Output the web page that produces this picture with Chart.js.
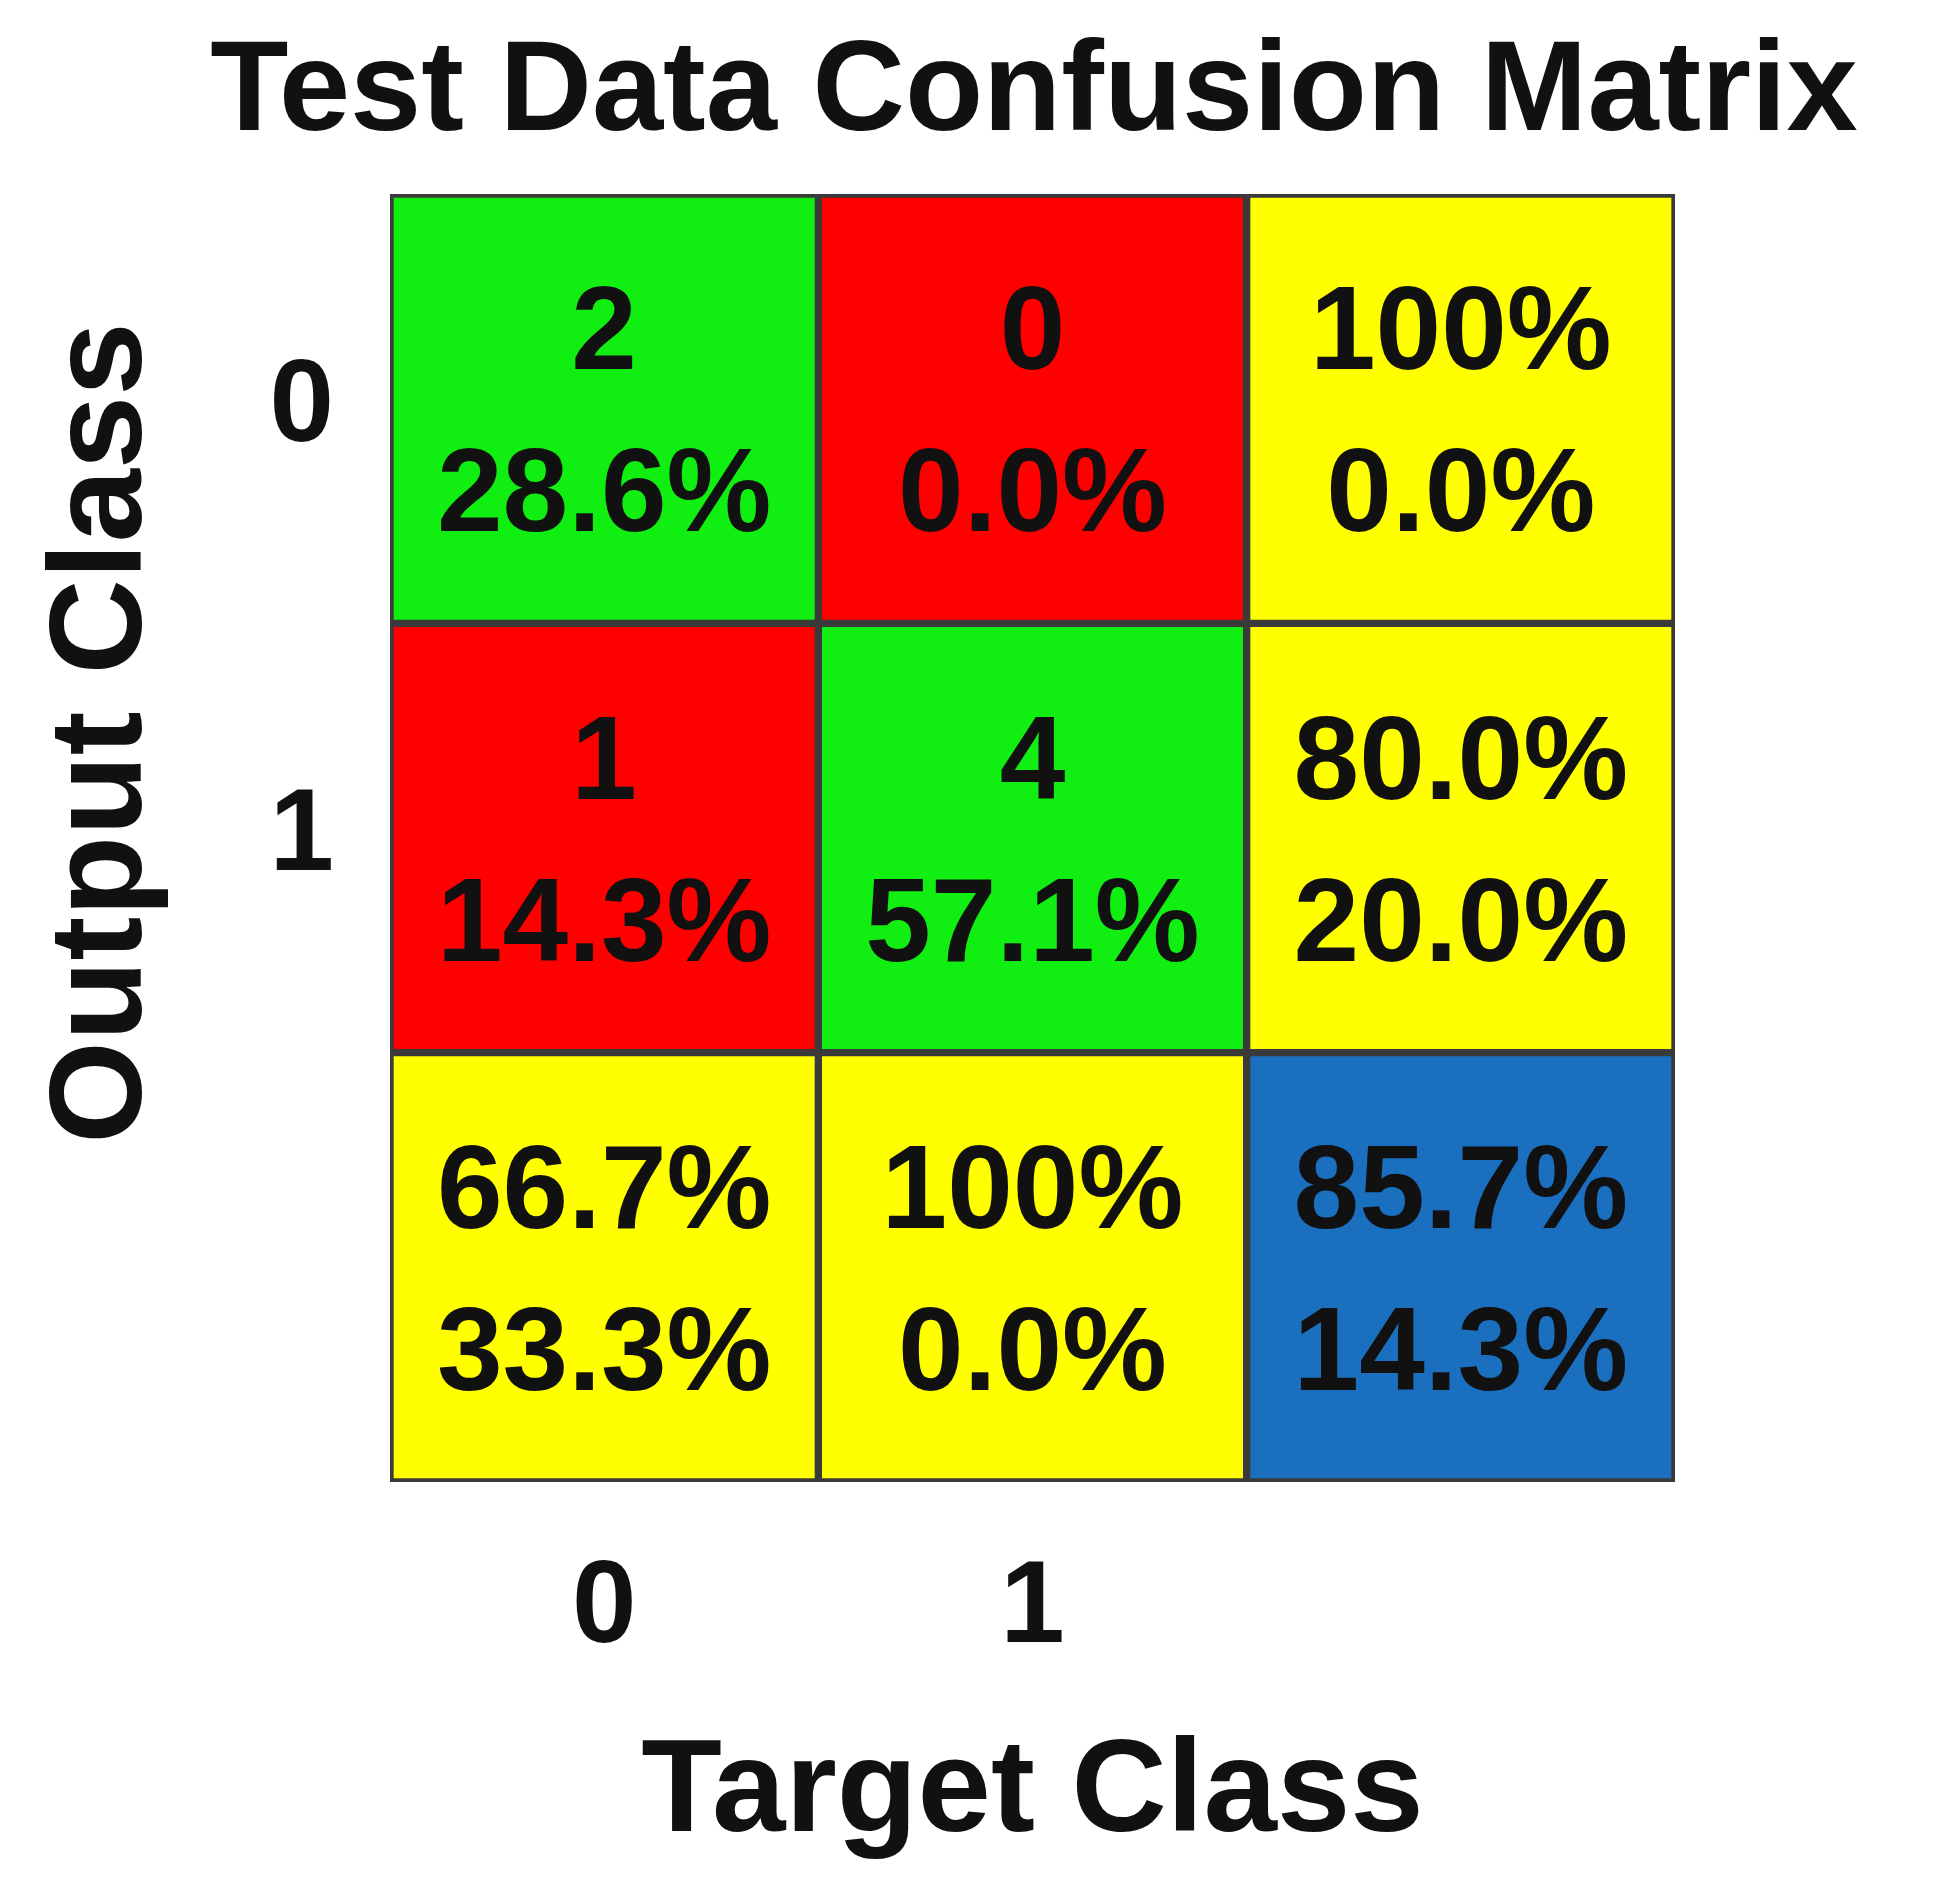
<!DOCTYPE html>
<html>
<head>
<meta charset="utf-8">
<script src="https://cdn.jsdelivr.net/npm/chart.js@4/dist/chart.umd.min.js"></script>
<style>
  html, body { margin: 0; padding: 0; background: #fff; }
  #wrap { width: 1942px; height: 1894px; }
</style>
</head>
<body>
<div id="wrap"><canvas id="cm"></canvas></div>
<script>
// columns = target class (+ summary), rows = output class (+ summary)
const targetLabels = ['0', '1', ''];
const outputLabels = ['0', '1', ''];
const topLines = [
    ['2', '0', '100%'],
    ['1', '4', '80.0%'],
    ['66.7%', '100%', '85.7%']
];
const bottomLines = [
    ['28.6%', '0.0%', '0.0%'],
    ['14.3%', '57.1%', '20.0%'],
    ['33.3%', '0.0%', '14.3%']
];
const cellColors = [
    ['#11ee11', '#ff0000', '#ffff00'],
    ['#ff0000', '#11ee11', '#ffff00'],
    ['#ffff00', '#ffff00', '#1a6fbf']
];

const FONT = '"Liberation Sans", Arial, sans-serif';

const datasets = outputLabels.map((name, r) => ({
    label: 'row ' + r,
    data: targetLabels.map(() => 1),
    backgroundColor: cellColors[r],
    borderColor: '#3a3a3a',
    borderWidth: 4,
    borderSkipped: false,
    categoryPercentage: 1,
    barPercentage: 1
}));

const cellText = {
    id: 'cellText',
    afterDatasetsDraw(chart) {
        const ctx = chart.ctx;
        ctx.save();
        ctx.fillStyle = '#111';
        ctx.textAlign = 'center';
        ctx.textBaseline = 'middle';
        ctx.font = 'bold 118px ' + FONT;
        chart.data.datasets.forEach((ds, r) => {
            chart.getDatasetMeta(r).data.forEach((bar, c) => {
                const cy = (bar.y + bar.base) / 2;
                ctx.fillText(topLines[r][c], bar.x, cy - 72);
                ctx.fillText(bottomLines[r][c], bar.x, cy + 90);
            });
        });
        const a = chart.chartArea;
        // chart title
        ctx.font = 'bold 128px ' + FONT;
        ctx.fillText('Test Data Confusion Matrix', 1034, 95, 1760);
        // axis titles
        ctx.font = 'bold 132px ' + FONT;
        ctx.fillText('Target Class', (a.left + a.right) / 2, 1795);
        ctx.translate(105, 733);
        ctx.rotate(-Math.PI / 2);
        ctx.fillText('Output Class', 0, 0);
        ctx.restore();
    }
};

new Chart(document.getElementById('cm'), {
    type: 'bar',
    data: { labels: targetLabels, datasets: datasets },
    options: {
        responsive: true,
        maintainAspectRatio: false,
        animation: false,
        layout: { padding: { left: 0, right: 267, top: 194, bottom: 0 } },
        plugins: {
            legend: { display: false },
            tooltip: { enabled: false },
            title: { display: false }
        },
        scales: {
            x: {
                stacked: true,
                grid: { display: false, drawTicks: false },
                border: { display: false },
                ticks: { color: '#111', padding: 70, font: { family: FONT, size: 116, weight: 'bold', lineHeight: 1 } },
                afterFit(scale) { scale.height = 1894 - 1482; }
            },
            y: {
                stacked: true,
                min: 0,
                max: 3,
                reverse: true,
                grid: { display: false, drawTicks: false },
                border: { display: false },
                afterBuildTicks(scale) {
                    scale.ticks = [{ value: 0.5 }, { value: 1.5 }];
                },
                ticks: {
                    color: '#111',
                    padding: 56,
                    font: { family: FONT, size: 116, weight: 'bold', lineHeight: 1 },
                    callback: (v) => outputLabels[Math.floor(v)]
                },
                afterFit(scale) { scale.width = 390; }
            }
        }
    },
    plugins: [cellText]
});
</script>
</body>
</html>
